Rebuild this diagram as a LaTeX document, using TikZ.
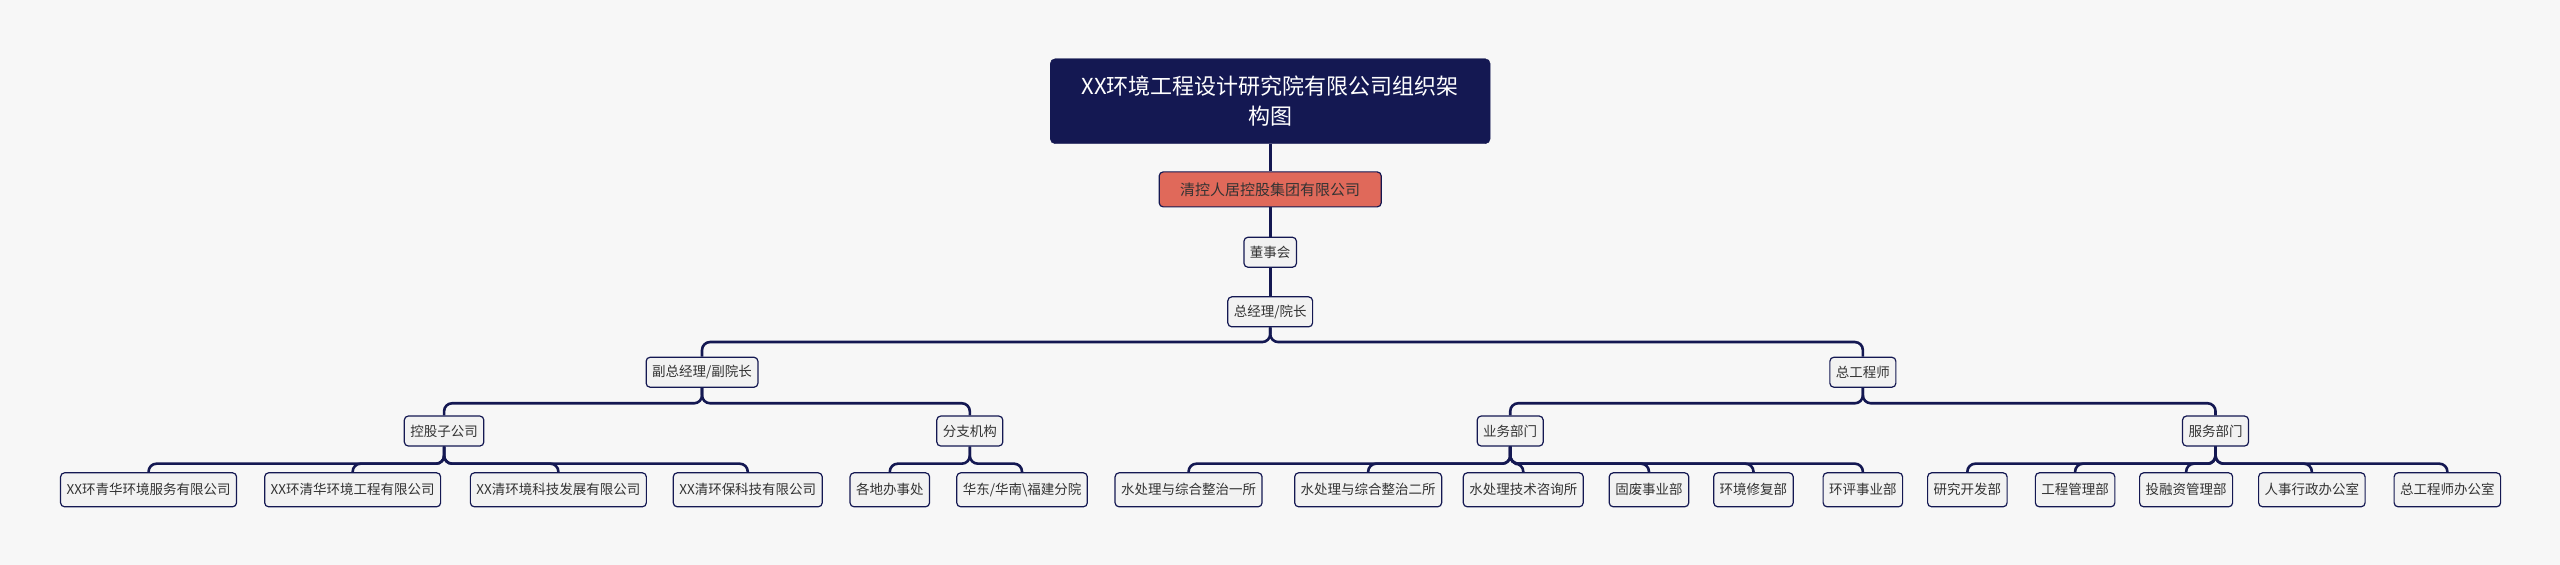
\documentclass[tikz,border=0pt]{standalone}
\usepackage{fontspec}
\setmainfont{Noto Sans CJK SC}
\begin{document}
\begin{tikzpicture}[x=1.6327pt,y=-1.6327pt,
  box/.style={draw=navy,line width=1.2pt,rounded corners=4pt,fill=boxgray,text=black!80,font=\fontsize{13.5}{16}\selectfont,minimum height=30pt,inner xsep=6pt,inner ysep=2pt},
  leaf/.style={box,minimum height=34pt},
  conn/.style={draw=navy,line width=2.6pt,rounded corners=8pt}]
\definecolor{navy}{HTML}{141852}
\definecolor{boxgray}{HTML}{F2F2F2}
\definecolor{redbox}{HTML}{E0695A}
\useasboundingbox[fill=black!3] (0,0) rectangle (1568,346);
\coordinate (b1) at (0,209.5);
\coordinate (b2) at (0,247);
\coordinate (b3) at (0,284);
\node[draw=navy,fill=navy,rounded corners=5pt,text=white,align=center,minimum width=440pt,minimum height=85pt,font=\fontsize{22}{30}\selectfont] (t) at (778,62) {XX环境工程设计研究院有限公司组织架\\构图};
\node[box,fill=redbox,minimum width=222pt,minimum height=35pt,font=\fontsize{15}{17}\selectfont] (r) at (778,116) {清控人居控股集团有限公司};
\node[box] (d) at (778,154.5) {董事会};
\node[box] (g) at (778,191) {总经理/院长};
\node[box] (f) at (430,228) {副总经理/副院长};
\node[box] (z) at (1141,228) {总工程师};
\node[box] (k) at (272,264) {控股子公司};
\node[box] (fz) at (594,264) {分支机构};
\node[box] (y) at (925,264) {业务部门};
\node[box] (s) at (1357,264) {服务部门};
\node[leaf] (l1) at (91,300) {XX环青华环境服务有限公司};
\node[leaf] (l2) at (216,300) {XX环清华环境工程有限公司};
\node[leaf] (l3) at (342,300) {XX清环境科技发展有限公司};
\node[leaf] (l4) at (458,300) {XX清环保科技有限公司};
\node[leaf] (l5) at (545,300) {各地办事处};
\node[leaf] (l6) at (626,300) {华东/华南\textbackslash 福建分院};
\node[leaf] (m1) at (728,300) {水处理与综合整治一所};
\node[leaf] (m2) at (838,300) {水处理与综合整治二所};
\node[leaf] (m3) at (933,300) {水处理技术咨询所};
\node[leaf] (m4) at (1010,300) {固废事业部};
\node[leaf] (m5) at (1074,300) {环境修复部};
\node[leaf] (m6) at (1141,300) {环评事业部};
\node[leaf] (n1) at (1205,300) {研究开发部};
\node[leaf] (n2) at (1271,300) {工程管理部};
\node[leaf] (n3) at (1339,300) {投融资管理部};
\node[leaf] (n4) at (1416,300) {人事行政办公室};
\node[leaf] (n5) at (1499,300) {总工程师办公室};
\draw[conn] (t) -- (r);
\draw[conn] (r) -- (d);
\draw[conn] (d) -- (g);
\foreach \c in {f,z} \draw[conn] (g.south) -- (g.south |- b1) -| (\c.north);
\foreach \c in {k,fz} \draw[conn] (f.south) -- (f.south |- b2) -| (\c.north);
\foreach \c in {y,s} \draw[conn] (z.south) -- (z.south |- b2) -| (\c.north);
\foreach \c in {l1,l2,l3,l4} \draw[conn] (k.south) -- (k.south |- b3) -| (\c.north);
\foreach \c in {l5,l6} \draw[conn] (fz.south) -- (fz.south |- b3) -| (\c.north);
\foreach \c in {m1,m2,m3,m4,m5,m6} \draw[conn] (y.south) -- (y.south |- b3) -| (\c.north);
\foreach \c in {n1,n2,n3,n4,n5} \draw[conn] (s.south) -- (s.south |- b3) -| (\c.north);
\end{tikzpicture}
\end{document}
